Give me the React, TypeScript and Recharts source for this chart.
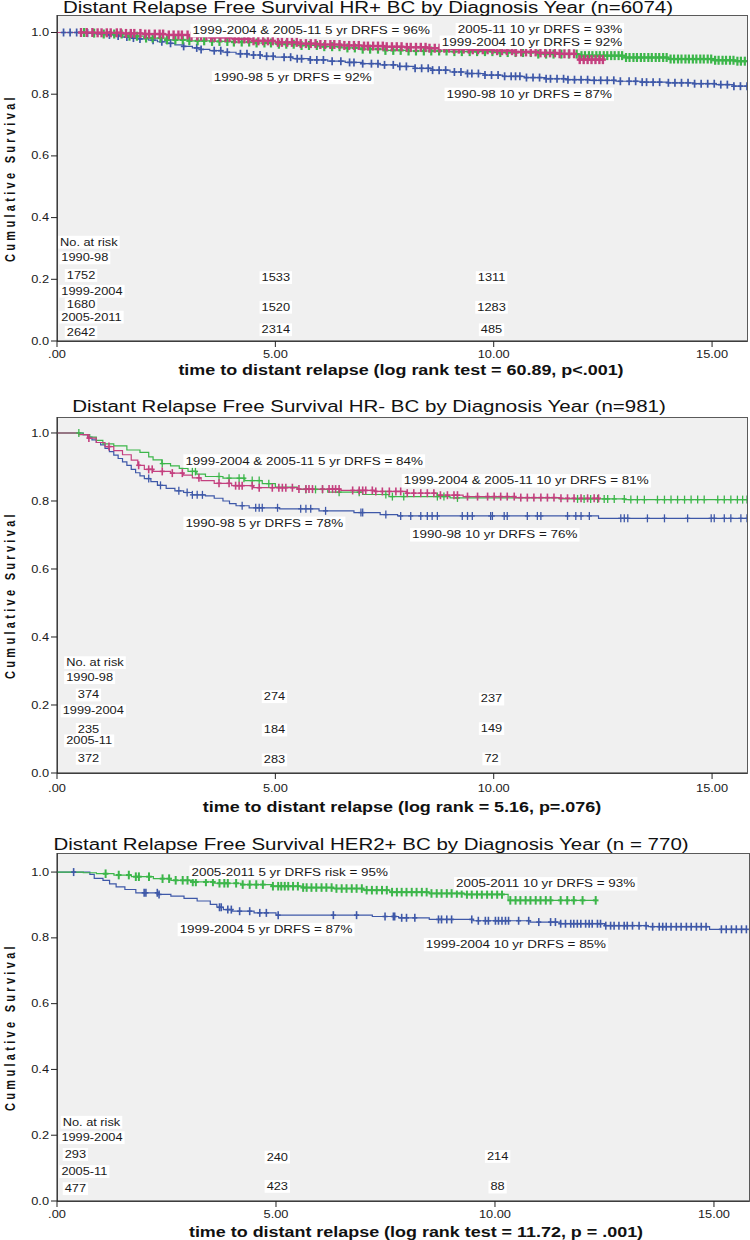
import React from "react";
import { ComposedChart, Line, XAxis, YAxis, ReferenceDot } from "recharts";

const FONT = '"Liberation Sans", Arial, sans-serif';
const SX = 1.28; // the reference is stretched horizontally
const BLUE = "#3E58A8";
const GREEN = "#3CB64A";
const PINK = "#C4407F";
const X_MAX = 15.8;

// ---------- HR+ ----------
const hrPos1990Steps = [[0, 1], [0.7, 0.998], [0.9, 0.995], [1.1, 0.992], [1.3, 0.989], [1.5, 0.985], [1.7, 0.982], [1.9, 0.979], [2.1, 0.975], [2.3, 0.97], [2.5, 0.965], [2.7, 0.96], [2.9, 0.955], [3.1, 0.95], [3.3, 0.945], [3.5, 0.941], [3.8, 0.936], [4.1, 0.931], [4.4, 0.927], [4.7, 0.923], [5.0, 0.92], [5.4, 0.915], [5.8, 0.911], [6.2, 0.907], [6.6, 0.903], [7.0, 0.899], [7.4, 0.895], [7.8, 0.89], [8.2, 0.884], [8.6, 0.878], [9.0, 0.872], [9.4, 0.867], [9.8, 0.862], [10.2, 0.858], [10.7, 0.854], [11.2, 0.85], [11.7, 0.847], [12.2, 0.845], [12.8, 0.842], [13.4, 0.839], [14.0, 0.837], [14.6, 0.834], [15.1, 0.831], [15.5, 0.826]];
const hrPos1990Cens = [0.15, 0.3, 0.45, 0.55, 0.7, 1.2, 1.4, 1.6, 1.75, 1.9, 2.2, 2.4, 2.6, 2.9, 3.2, 3.3, 3.6, 3.75, 3.9, 4.2, 4.35, 4.5, 4.65, 4.8, 4.95, 5.2, 5.35, 5.5, 5.6, 5.8, 5.95, 6.1, 6.3, 6.5, 6.7, 6.8, 7.0, 7.2, 7.35, 7.5, 7.7, 7.85, 8.0, 8.2, 8.35, 8.5, 8.6, 8.75, 8.9, 9.1, 9.25, 9.4, 9.5, 9.65, 9.8, 9.95, 10.1, 10.25, 10.4, 10.5, 10.6, 10.75, 10.9, 11.05, 11.2, 11.3, 11.45, 11.6, 11.7, 11.85, 12.0, 12.15, 12.3, 12.45, 12.6, 12.75, 12.9, 13.1, 13.25, 13.4, 13.5, 13.65, 13.8, 14.0, 14.15, 14.3, 14.45, 14.6, 14.75, 14.9, 15.05, 15.2, 15.35, 15.5, 15.65, 15.8];
const hrPos1999Steps = [[0, 1], [0.9, 0.999], [1.5, 0.997], [2.0, 0.995], [2.5, 0.992], [3.0, 0.988], [3.5, 0.984], [4.0, 0.979], [4.5, 0.973], [5.0, 0.968], [5.5, 0.964], [6.0, 0.961], [6.5, 0.958], [7.0, 0.956], [7.5, 0.954], [8.0, 0.952], [8.5, 0.949], [9.0, 0.946], [9.5, 0.944], [10.0, 0.941], [10.5, 0.937], [11.0, 0.934], [11.5, 0.931], [11.95, 0.912]];
const hrPos1999Cens = [0.55, 0.68, 0.81, 0.93, 1.02, 1.14, 1.23, 1.37, 1.46, 1.58, 1.69, 1.77, 1.91, 2.02, 2.11, 2.24, 2.35, 2.43, 2.56, 2.67, 2.78, 2.86, 2.99, 3.08, 3.21, 3.3, 3.42, 3.53, 3.61, 3.74, 3.86, 3.95, 4.07, 4.16, 4.29, 4.38, 4.5, 4.61, 4.72, 4.83, 4.94, 5.06, 5.15, 5.27, 5.38, 5.49, 5.58, 5.7, 5.81, 5.92, 6.03, 6.14, 6.26, 6.35, 6.47, 6.58, 6.69, 6.8, 6.91, 7.03, 7.12, 7.24, 7.35, 7.46, 7.55, 7.67, 7.78, 7.89, 8.01, 8.1, 8.22, 8.33, 8.44, 8.53, 8.65, 8.76, 8.87, 8.98, 9.09, 9.2, 9.31, 9.43, 9.52, 9.64, 9.75, 9.86, 9.97, 10.08, 10.19, 10.3, 10.42, 10.51, 10.63, 10.74, 10.85, 10.96, 11.07, 11.18, 11.29, 11.4, 11.51, 11.62, 11.73, 11.84, 11.97, 12.06, 12.15, 12.24, 12.33, 12.42, 12.5];
const hrPos2005Steps = [[0, 1], [0.7, 0.998], [1.0, 0.995], [1.5, 0.988], [2.0, 0.982], [2.5, 0.976], [3.0, 0.973], [3.5, 0.971], [4.0, 0.969], [4.5, 0.966], [5.0, 0.962], [5.5, 0.958], [6.0, 0.954], [6.5, 0.95], [7.0, 0.946], [7.5, 0.942], [8.0, 0.94], [9.0, 0.938], [10.0, 0.935], [11.0, 0.93], [12.0, 0.925], [13.0, 0.919], [14.0, 0.914], [15.0, 0.91], [15.5, 0.907]];
const hrPos2005Cens = [0.62, 0.85, 1.07, 1.31, 1.48, 1.66, 1.83, 2.04, 2.19, 2.37, 2.52, 2.71, 2.88, 3.03, 3.22, 3.37, 3.55, 3.72, 3.9, 4.05, 4.23, 4.4, 4.57, 4.75, 4.9, 5.08, 5.25, 5.42, 5.6, 5.77, 5.95, 6.12, 6.3, 6.47, 6.65, 6.82, 7.0, 7.17, 7.35, 7.52, 7.7, 7.87, 8.05, 8.22, 8.4, 8.57, 8.75, 8.92, 9.1, 9.27, 9.45, 9.62, 9.8, 9.97, 10.15, 10.32, 10.5, 10.67, 10.85, 11.02, 11.2, 11.37, 11.55, 11.72, 11.9, 12.01, 12.09, 12.18, 12.26, 12.35, 12.43, 12.52, 12.6, 12.69, 12.77, 12.86, 12.94, 13.03, 13.11, 13.2, 13.28, 13.37, 13.45, 13.54, 13.62, 13.71, 13.79, 13.88, 13.96, 14.05, 14.13, 14.22, 14.3, 14.39, 14.47, 14.56, 14.64, 14.73, 14.81, 14.9, 14.98, 15.07, 15.15, 15.24, 15.32, 15.41, 15.49, 15.58, 15.66, 15.75];
const hrPosGroups = ["1990-98", "1999-2004", "2005-2011"];
const hrPosAtRisk = [[1752, 1533, 1311], [1680, 1520, 1283], [2642, 2314, 485]];
const hrPosNotes = ["1999-2004 & 2005-11 5 yr DRFS = 96%", "2005-11 10 yr DRFS = 93%", "1999-2004 10 yr DRFS = 92%", "1990-98 5 yr DRFS = 92%", "1990-98 10 yr DRFS = 87%"];

// ---------- HR- ----------
const hrNeg1990Steps = [[0, 1], [0.6, 0.995], [0.7, 0.988], [0.8, 0.98], [0.9, 0.972], [1.0, 0.965], [1.1, 0.955], [1.2, 0.945], [1.3, 0.935], [1.4, 0.925], [1.5, 0.915], [1.6, 0.905], [1.7, 0.893], [1.8, 0.883], [1.9, 0.874], [2.0, 0.866], [2.15, 0.857], [2.3, 0.846], [2.5, 0.837], [2.7, 0.83], [2.9, 0.825], [3.1, 0.818], [3.4, 0.815], [3.6, 0.808], [3.8, 0.8], [3.95, 0.792], [4.1, 0.786], [4.4, 0.78], [5.1, 0.777], [6.0, 0.771], [6.8, 0.766], [7.4, 0.76], [7.8, 0.756], [12.4, 0.749]];
const hrNeg1990Cens = [2.1, 2.37, 2.79, 2.98, 3.1, 3.21, 3.33, 4.24, 4.55, 4.63, 4.7, 5.05, 5.58, 5.7, 5.81, 6.15, 6.96, 7.0, 7.53, 7.87, 8.1, 8.33, 8.48, 8.59, 8.71, 9.28, 9.4, 9.51, 9.93, 9.97, 10.24, 10.31, 10.77, 11.0, 11.08, 11.69, 11.88, 12.0, 12.19, 12.91, 12.99, 13.07, 13.52, 13.91, 14.44, 14.98, 15.05, 15.28, 15.43, 15.66, 15.8];
const hrNeg1999Steps = [[0, 1], [0.5, 0.995], [0.7, 0.985], [0.9, 0.972], [1.1, 0.96], [1.3, 0.948], [1.5, 0.936], [1.7, 0.92], [1.85, 0.905], [2.0, 0.893], [2.2, 0.887], [2.6, 0.882], [2.9, 0.876], [3.1, 0.868], [3.3, 0.86], [3.6, 0.852], [4.0, 0.845], [4.5, 0.839], [5.5, 0.835], [6.5, 0.831], [7.3, 0.828], [8.0, 0.823], [8.7, 0.817], [9.3, 0.813], [10.5, 0.81], [11.5, 0.808]];
const hrNeg1999Cens = [0.73, 1.19, 1.87, 2.1, 2.18, 2.41, 2.64, 2.87, 3.25, 3.71, 3.94, 4.09, 4.17, 4.24, 4.47, 4.63, 4.93, 5.08, 5.16, 5.24, 5.39, 5.54, 5.7, 5.77, 5.85, 6.08, 6.23, 6.31, 6.38, 6.46, 6.77, 6.92, 7.0, 7.07, 7.22, 7.3, 7.45, 7.61, 7.76, 7.87, 8.02, 8.17, 8.33, 8.48, 8.63, 8.78, 8.94, 9.09, 9.17, 9.4, 9.63, 9.86, 10.01, 10.16, 10.31, 10.47, 10.62, 10.77, 10.92, 11.08, 11.23, 11.38, 11.54, 11.69, 11.84, 12.0, 12.15, 12.3, 12.4];
const hrNeg2005Steps = [[0, 1], [0.6, 0.995], [0.75, 0.988], [0.9, 0.978], [1.05, 0.968], [1.3, 0.962], [1.6, 0.95], [1.9, 0.943], [2.1, 0.93], [2.2, 0.921], [2.4, 0.91], [2.6, 0.903], [2.8, 0.896], [3.0, 0.887], [3.2, 0.879], [3.4, 0.872], [3.8, 0.867], [4.3, 0.86], [4.7, 0.851], [5.0, 0.841], [5.5, 0.834], [6.2, 0.826], [7.0, 0.819], [7.6, 0.813], [9.0, 0.809], [11.5, 0.806], [13.0, 0.804]];
const hrNeg2005Cens = [0.5, 2.41, 3.1, 3.17, 3.71, 3.94, 4.17, 4.28, 4.47, 4.63, 4.85, 5.7, 5.92, 6.08, 6.46, 6.92, 7.53, 7.68, 7.94, 8.71, 8.86, 9.17, 11.92, 12.07, 12.22, 12.38, 12.53, 12.61, 12.76, 12.99, 13.14, 13.29, 13.45, 13.75, 13.91, 14.06, 14.21, 14.37, 14.52, 14.67, 14.82, 15.13, 15.28, 15.43, 15.58, 15.7, 15.8];
const hrNegGroups = ["1990-98", "1999-2004", "2005-11"];
const hrNegAtRisk = [[374, 274, 237], [235, 184, 149], [372, 283, 72]];
const hrNegNotes = ["1999-2004 & 2005-11 5 yr DRFS = 84%", "1999-2004 & 2005-11 10 yr DRFS = 81%", "1990-98 5 yr DRFS = 78%", "1990-98 10 yr DRFS = 76%"];

// ---------- HER2+ ----------
const her21999Steps = [[0, 1], [0.75, 0.993], [0.85, 0.981], [1.05, 0.975], [1.2, 0.964], [1.35, 0.955], [1.55, 0.947], [1.8, 0.937], [2.3, 0.932], [2.6, 0.927], [2.9, 0.92], [3.2, 0.912], [3.5, 0.902], [3.65, 0.893], [3.8, 0.886], [4.0, 0.881], [4.5, 0.876], [5.0, 0.869], [7.2, 0.865], [7.8, 0.861], [8.5, 0.856], [9.5, 0.852], [10.8, 0.848], [11.5, 0.843], [12.5, 0.837], [13.5, 0.834], [14.9, 0.826]];
const her21999Cens = [0.38, 1.99, 2.03, 2.29, 2.33, 3.71, 3.75, 3.9, 3.98, 4.17, 4.4, 4.63, 4.78, 5.05, 6.31, 6.84, 7.49, 7.68, 7.71, 7.87, 7.98, 8.17, 8.71, 8.78, 8.9, 9.01, 9.47, 9.62, 9.78, 9.85, 10.01, 10.08, 10.16, 10.24, 10.31, 10.54, 10.77, 11.0, 11.27, 11.38, 11.5, 11.61, 11.73, 11.8, 11.88, 11.96, 12.07, 12.15, 12.22, 12.34, 12.41, 12.53, 12.64, 12.72, 12.83, 12.95, 13.02, 13.14, 13.29, 13.45, 13.6, 13.75, 13.83, 13.91, 14.02, 14.14, 14.25, 14.37, 14.48, 14.6, 14.71, 14.82, 15.17, 15.28, 15.4, 15.51, 15.63, 15.74];
const her22005Steps = [[0, 1], [0.6, 0.998], [0.9, 0.995], [1.3, 0.991], [1.7, 0.986], [2.2, 0.98], [2.6, 0.975], [3.1, 0.97], [3.6, 0.966], [4.2, 0.962], [4.9, 0.957], [5.6, 0.953], [6.3, 0.95], [7.0, 0.945], [7.6, 0.939], [8.5, 0.935], [9.3, 0.932], [10.3, 0.914]];
const her22005Cens = [1.11, 1.41, 1.64, 1.8, 1.87, 2.1, 2.41, 2.56, 2.71, 2.87, 2.98, 3.1, 3.17, 3.4, 3.56, 3.71, 3.82, 3.9, 4.09, 4.24, 4.4, 4.55, 4.7, 4.93, 5.05, 5.12, 5.2, 5.28, 5.39, 5.5, 5.62, 5.7, 5.81, 5.92, 6.04, 6.15, 6.27, 6.38, 6.5, 6.61, 6.73, 6.84, 6.96, 7.07, 7.19, 7.3, 7.42, 7.53, 7.65, 7.76, 7.87, 7.98, 8.1, 8.21, 8.33, 8.44, 8.55, 8.67, 8.78, 8.9, 9.01, 9.13, 9.24, 9.36, 9.47, 9.59, 9.7, 9.82, 9.93, 10.05, 10.16, 10.35, 10.47, 10.58, 10.7, 10.81, 10.93, 11.04, 11.16, 11.27, 11.5, 11.65, 11.8, 12.0, 12.3];
const her2Groups = ["1999-2004", "2005-11"];
const her2AtRisk = [[293, 240, 214], [477, 423, 88]];
const her2Notes = ["2005-2011 5 yr DRFS risk = 95%", "2005-2011 10 yr DRFS = 93%", "1999-2004 5 yr DRFS = 87%", "1999-2004 10 yr DRFS = 85%"];

const yTicks = [0, 0.2, 0.4, 0.6, 0.8, 1.0];
const xTicks = [0, 5, 10, 15];

function km(steps: number[][], cens: number[]) {
  const rows = steps.map(([t, s]) => ({ t, s, c: false }));
  cens.forEach((t) => {
    let s = 1;
    for (const [st, sv] of steps) if (st <= t) s = sv;
    rows.push({ t, s, c: true });
  });
  rows.sort((a, b) => a.t - b.t || (a.c ? 1 : -1));
  return rows;
}

let ctx: CanvasRenderingContext2D | null = null;
function measure(text: string, size: number) {
  if (!ctx) ctx = document.createElement("canvas").getContext("2d");
  if (!ctx) return text.length * size * 0.55;
  ctx.font = `${size}px "Liberation Sans"`;
  return ctx.measureText(text).width;
}

function SText({ x, y, anchor = "start", size, weight = "normal", children }: any) {
  return (
    <g transform={`translate(${x},${y}) scale(${SX},1)`}>
      <text x={0} y={0} textAnchor={anchor} fontSize={size} fontWeight={weight} fontFamily={FONT} fill="#1a1a1a">
        {children}
      </text>
    </g>
  );
}

function BoxLabel({ cx, cy, text, anchor = "start", size = 10.5 }: any) {
  const w = measure(text, size) * SX;
  const x0 = anchor === "end" ? cx - w : anchor === "middle" ? cx - w / 2 : cx;
  return (
    <g>
      <rect x={x0 - 2} y={cy - size * 0.62} width={w + 4} height={size * 1.28} fill="#fff" />
      <SText x={cx} y={cy + size * 0.36} anchor={anchor} size={size}>{text}</SText>
    </g>
  );
}

// censor "+" marks: h = half height, w = half width, sw = stroke width
const censorDot = (color: string, m: any) => (p: any) => {
  if (!p.payload || !p.payload.c) return <g key={`n${p.index}`} />;
  return (
    <g key={`c${p.index}`} stroke={color} strokeWidth={m.sw}>
      <line x1={p.cx} y1={p.cy - m.h} x2={p.cx} y2={p.cy + m.h} />
      <line x1={p.cx - m.w} y1={p.cy} x2={p.cx + m.w} y2={p.cy} />
    </g>
  );
};

const thin = { h: 4, w: 2.5, sw: 1.3 };

const panels = [
  {
    top: 0, height: 400, plotTop: 15, xAxisH: 59, right: 3, yMax: 1.0567, tickDy: 8.5,
    title: "Distant Relapse Free Survival HR+ BC by Diagnosis Year (n=6074)", titleX: 368, titleY: 7.5,
    xTitle: "time to distant relapse (log rank test = 60.89, p<.001)", xTitleX: 401, xTitleY: 370,
    curves: [
      { color: BLUE, rows: km(hrPos1990Steps, hrPos1990Cens), mark: { h: 4, w: 2.8, sw: 1.7 } },
      { color: GREEN, rows: km(hrPos2005Steps, hrPos2005Cens), mark: { h: 4.5, w: 3, sw: 2.2 } },
      { color: PINK, rows: km(hrPos1999Steps, hrPos1999Cens), mark: { h: 4.5, w: 3, sw: 2.4 } },
    ],
    notes: [
      { text: hrPosNotes[0], t: 3.1, s: 1.007, a: "start" },
      { text: hrPosNotes[1], t: 12.94, s: 1.01, a: "end" },
      { text: hrPosNotes[2], t: 12.94, s: 0.969, a: "end" },
      { text: hrPosNotes[3], t: 3.59, s: 0.855, a: "start" },
      { text: hrPosNotes[4], t: 8.92, s: 0.8, a: "start" },
    ],
    groups: hrPosGroups, atRisk: hrPosAtRisk,
    head: { t: 0.07, s: 0.321 }, groupT: [0.1, 0.1, 0.1], groupS: [0.27, 0.162, 0.078],
    colT: [0.55, 5.01, 9.95], rowS: [[0.213, 0.206, 0.206], [0.119, 0.11, 0.11], [0.029, 0.037, 0.037]],
  },
  {
    top: 400, height: 430, plotTop: 17, xAxisH: 57, right: 3, yMax: 1.047, tickDy: 10.5,
    title: "Distant Relapse Free Survival HR- BC by Diagnosis Year (n=981)", titleX: 369, titleY: 7,
    xTitle: "time to distant relapse (log rank = 5.16, p=.076)", xTitleX: 402, xTitleY: 406.7,
    curves: [
      { color: BLUE, rows: km(hrNeg1990Steps, hrNeg1990Cens), mark: thin },
      { color: GREEN, rows: km(hrNeg2005Steps, hrNeg2005Cens), mark: thin },
      { color: PINK, rows: km(hrNeg1999Steps, hrNeg1999Cens), mark: { h: 4, w: 2.5, sw: 1.6 } },
    ],
    notes: [
      { text: hrNegNotes[0], t: 2.94, s: 0.918, a: "start" },
      { text: hrNegNotes[1], t: 7.94, s: 0.86, a: "start" },
      { text: hrNegNotes[2], t: 2.94, s: 0.735, a: "start" },
      { text: hrNegNotes[3], t: 8.13, s: 0.701, a: "start" },
    ],
    groups: hrNegGroups, atRisk: hrNegAtRisk,
    head: { t: 0.21, s: 0.325 }, groupT: [0.21, 0.13, 0.21], groupS: [0.281, 0.183, 0.095],
    colT: [0.72, 4.98, 9.95], rowS: [[0.23, 0.225, 0.218], [0.129, 0.127, 0.131], [0.044, 0.039, 0.042]],
  },
  {
    top: 830, height: 410, plotTop: 23, xAxisH: 39, right: 1, yMax: 1.058, tickDy: 8.5,
    title: "Distant Relapse Free Survival HER2+ BC by Diagnosis Year (n = 770)", titleX: 371, titleY: 15,
    xTitle: "time to distant relapse (log rank test = 11.72, p = .001)", xTitleX: 416, xTitleY: 402,
    curves: [
      { color: BLUE, rows: km(her21999Steps, her21999Cens), mark: { h: 4, w: 2.5, sw: 1.6 } },
      { color: GREEN, rows: km(her22005Steps, her22005Cens), mark: { h: 4.3, w: 2.8, sw: 2 } },
    ],
    notes: [
      { text: her2Notes[0], t: 3.07, s: 1.0, a: "start" },
      { text: her2Notes[1], t: 9.11, s: 0.965, a: "start" },
      { text: her2Notes[2], t: 2.8, s: 0.826, a: "start" },
      { text: her2Notes[3], t: 8.42, s: 0.78, a: "start" },
    ],
    groups: her2Groups, atRisk: her2AtRisk,
    head: { t: 0.13, s: 0.24 }, groupT: [0.1, 0.1], groupS: [0.193, 0.09],
    colT: [0.42, 5.03, 10.06], rowS: [[0.142, 0.134, 0.136], [0.038, 0.045, 0.043]],
  },
];

function Panel({ cfg }: any) {
  const plotBottom = cfg.height - cfg.xAxisH;
  const plotW = 750 - 57 - cfg.right;
  const labels: any[] = [];
  cfg.notes.forEach((n: any) => labels.push({ text: n.text, t: n.t, s: n.s, a: n.a, size: 10.5 }));
  labels.push({ text: "No. at risk", t: cfg.head.t, s: cfg.head.s, a: "start", size: 10 });
  cfg.groups.forEach((g: string, i: number) => {
    labels.push({ text: g, t: cfg.groupT[i], s: cfg.groupS[i], a: "start", size: 10 });
    cfg.atRisk[i].forEach((v: number, j: number) =>
      labels.push({ text: String(v), t: cfg.colT[j], s: cfg.rowS[i][j], a: "middle", size: 10 })
    );
  });
  const textStyle: any = { position: "absolute", fontFamily: FONT, color: "#111", whiteSpace: "nowrap", textAlign: "center" };
  return (
    <div style={{ position: "absolute", left: 0, top: cfg.top, width: 750, height: cfg.height }}>
      <div style={{ position: "absolute", left: 57, top: cfg.plotTop, width: plotW + 1, height: plotBottom - cfg.plotTop + 1, background: "#F0F0F0", border: "1px solid #5a5a5a", boxSizing: "border-box" }} />
      <div style={{ position: "absolute", left: 0, top: 0 }}>
        <ComposedChart width={750} height={cfg.height} margin={{ top: cfg.plotTop, right: cfg.right, bottom: 0, left: 0 }}>
          <XAxis type="number" dataKey="t" domain={[0, X_MAX]} ticks={xTicks} allowDataOverflow interval={0}
            height={cfg.xAxisH} tickSize={6} axisLine={{ stroke: "#222" }} tickLine={{ stroke: "#222" }}
            tick={(p: any) => <SText x={p.x} y={p.y + cfg.tickDy} anchor="middle" size={10}>{p.payload.value === 0 ? ".00" : p.payload.value.toFixed(2)}</SText>} />
          <YAxis type="number" domain={[0, cfg.yMax]} ticks={yTicks} allowDataOverflow interval={0}
            width={57} tickSize={6} tickMargin={2} axisLine={{ stroke: "#222" }} tickLine={{ stroke: "#222" }}
            tick={(p: any) => <SText x={p.x} y={p.y + 3.6} anchor="end" size={10}>{p.payload.value.toFixed(1)}</SText>} />
          {cfg.curves.map((c: any, i: number) => (
            <Line key={i} data={c.rows} dataKey="s" type="stepAfter" stroke={c.color} strokeWidth={1.2}
              dot={censorDot(c.color, c.mark)} activeDot={false} isAnimationActive={false} />
          ))}
          {labels.map((l, i) => (
            <ReferenceDot key={`l${i}`} x={l.t} y={l.s} r={0} ifOverflow="visible"
              shape={(p: any) => <BoxLabel cx={p.cx} cy={p.cy} text={l.text} anchor={l.a} size={l.size} />} />
          ))}
        </ComposedChart>
      </div>
      <div style={{ ...textStyle, left: cfg.titleX - 400, width: 800, top: cfg.titleY - 10, height: 20, lineHeight: "20px", fontSize: 16, transform: `scaleX(${SX})` }}>{cfg.title}</div>
      <div style={{ ...textStyle, left: cfg.xTitleX - 400, width: 800, top: cfg.xTitleY - 10, height: 20, lineHeight: "20px", fontSize: 14, fontWeight: "bold", transform: `scaleX(${SX})` }}>{cfg.xTitle}</div>
      <div style={{ ...textStyle, left: 10 - 100, width: 200, top: (cfg.plotTop + plotBottom) / 2 - 10, height: 20, lineHeight: "20px", fontSize: 11, fontWeight: "bold", letterSpacing: 3.3, transform: `scaleX(${SX}) rotate(-90deg)` }}>Cumulative Survival</div>
    </div>
  );
}

export default function App() {
  return (
    <div style={{ position: "absolute", left: 0, top: 0, width: 750, height: 1240, background: "#fff", overflow: "hidden" }}>
      {panels.map((p, i) => <Panel key={i} cfg={p} />)}
    </div>
  );
}
